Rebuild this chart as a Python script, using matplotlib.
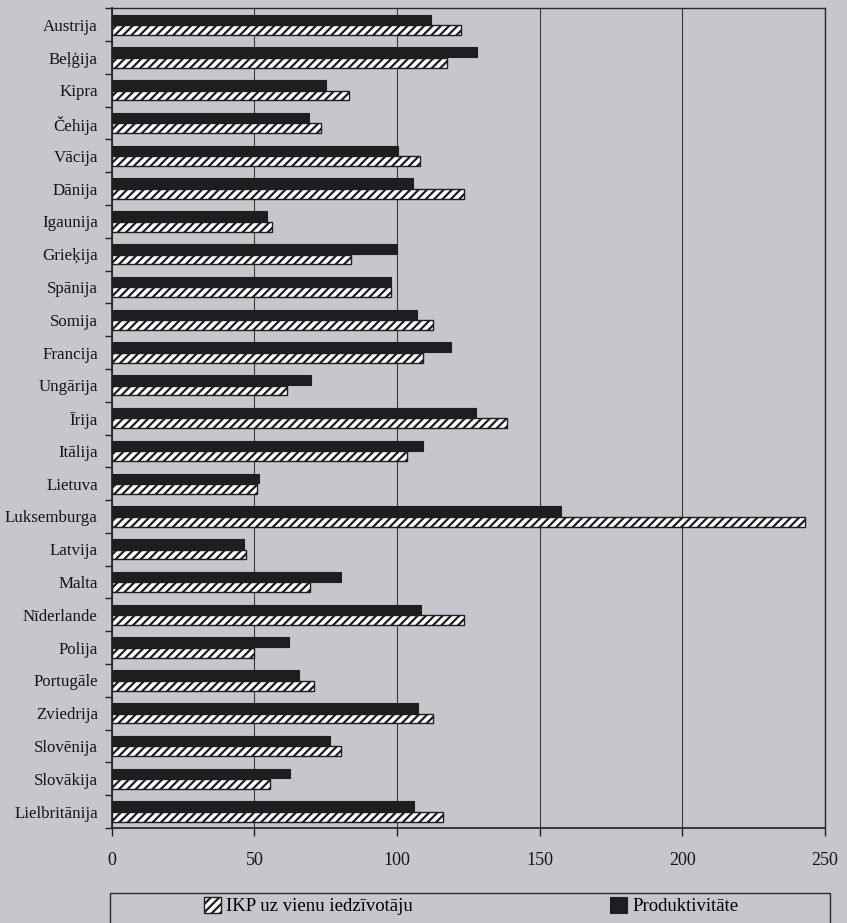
import matplotlib
matplotlib.use("Agg")
import matplotlib.pyplot as plt
from matplotlib.patches import Rectangle
import numpy as np

countries = ["Austrija", "Beļģija", "Kipra", "Čehija", "Vācija", "Dānija", "Igaunija",
             "Grieķija", "Spānija", "Somija", "Francija", "Ungārija", "Īrija", "Itālija",
             "Lietuva", "Luksemburga", "Latvija", "Malta", "Nīderlande", "Polija",
             "Portugāle", "Zviedrija", "Slovēnija", "Slovākija", "Lielbritānija"]
ikp = [122.5, 117.5, 83, 73.5, 108, 123.5, 56, 84, 98, 112.5, 109, 61.5, 138.5, 103.5,
       51, 243, 47, 69.5, 123.5, 50, 71, 112.5, 80.5, 55.5, 116]
produkt = [112, 128, 75, 69, 100.5, 105.5, 54.5, 100, 98, 107, 119, 70, 127.5, 109,
           51.5, 157.5, 46.5, 80.5, 108.5, 62, 65.5, 107.5, 76.5, 62.5, 106]
xticks = [0, 50, 100, 150, 200, 250]

plt.rcParams['font.family'] = ['Liberation Serif', 'DejaVu Serif']
plt.rcParams['hatch.linewidth'] = 1.6
bg = '#c6c7cc'

fig = plt.figure(figsize=(8.47, 9.23), dpi=100, facecolor=bg)
ax = fig.add_axes([0.132, 0.103, 0.842, 0.888], facecolor=bg)

n = len(countries)
y = np.arange(n)
h = 0.3
ax.barh(y - h / 2 - 0.01, produkt, height=h, color='#1e1e20', edgecolor='#1e1e20',
        linewidth=0.8, label='Produktivitāte', zorder=3)
ax.barh(y + h / 2 + 0.01, ikp, height=h, color='white', edgecolor='#1e1e20',
        hatch='////', linewidth=1.0, label='IKP uz vienu iedzīvotāju', zorder=3)

ax.set_ylim(n - 0.5, -0.5)
ax.set_xlim(0, 250)
ax.set_yticks(y)
ax.set_yticklabels(countries, fontsize=12.2, color='#151515')
ax.set_yticks(np.arange(n + 1) - 0.5, minor=True)
ax.tick_params(axis='y', which='major', length=0, pad=10)
ax.tick_params(axis='y', which='minor', length=5, width=1, color='#222222')
ax.set_xticks(xticks)
ax.set_xticklabels([str(v) for v in xticks], fontsize=13, color='#151515')
ax.tick_params(axis='x', length=6, width=1, color='#222222', pad=11)
ax.xaxis.grid(True, color='#3a3a3a', linewidth=0.8, zorder=0)
for s in ax.spines.values():
    s.set_color('#2a2a2a')
    s.set_linewidth(1.0)
ax.spines['left'].set_linewidth(1.3)
ax.spines['bottom'].set_linewidth(1.3)

# legend frame (runs off the bottom edge as in the reference)
fig.patches.append(Rectangle((110 / 847, -0.01), 720 / 847, 0.01 + 30 / 923,
                             transform=fig.transFigure, facecolor='none',
                             edgecolor='#2a2a2a', linewidth=1.0))
handles, labels = ax.get_legend_handles_labels()
leg = fig.legend(handles[::-1], labels[::-1], ncol=2, loc='center',
                 bbox_to_anchor=(471 / 847, 1 - 906 / 923),
                 frameon=False, fontsize=13.5, handlelength=0.9,
                 handleheight=1.0, handletextpad=0.3, columnspacing=10.5,
                 borderaxespad=0.0)

fig.savefig('out.png', dpi=100, facecolor=bg)
